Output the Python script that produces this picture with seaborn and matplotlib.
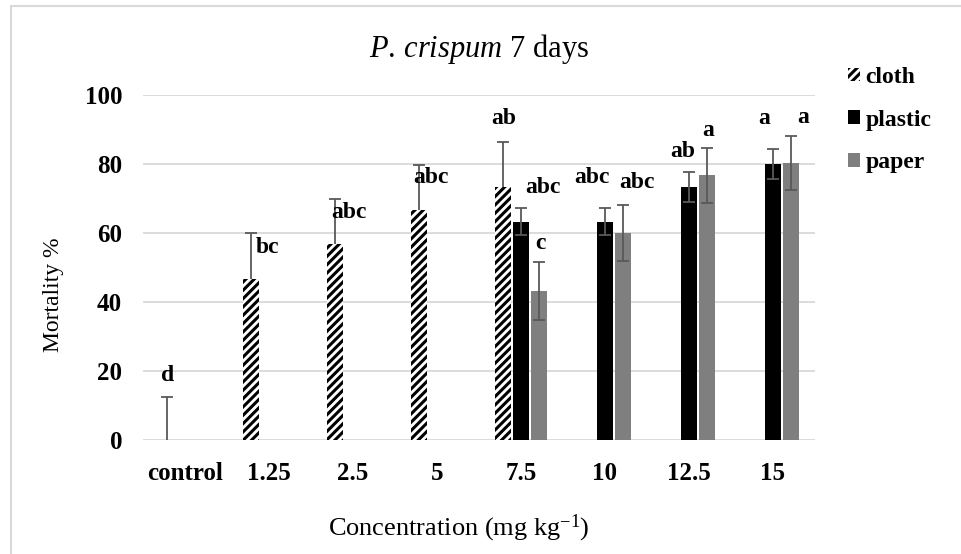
import numpy as np
import pandas as pd
import seaborn as sns
import matplotlib.pyplot as plt
from matplotlib.patches import Patch, Rectangle

# -------- DATA --------
categories = ["control", "1.25", "2.5", "5", "7.5", "10", "12.5", "15"]
series = ["cloth", "plastic", "paper"]

cloth_mean = [0, 46.7, 56.7, 66.7, 73.3, np.nan, np.nan, np.nan]
cloth_err = [12.5, 13.3, 13.3, 13.0, 13.0, np.nan, np.nan, np.nan]
plastic_mean = [np.nan, np.nan, np.nan, np.nan, 63.3, 63.3, 73.3, 80.0]
plastic_err = [np.nan, np.nan, np.nan, np.nan, 4.0, 4.0, 4.4, 4.4]
paper_mean = [np.nan, np.nan, np.nan, np.nan, 43.3, 60.0, 76.7, 80.3]
paper_err = [np.nan, np.nan, np.nan, np.nan, 8.4, 8.2, 7.9, 7.7]

# significance letters: (text, x position in category units, y position)
letters = ["d", "bc", "abc", "abc", "ab", "abc", "c", "abc", "abc", "ab", "a", "a", "a"]
letter_x = [-0.21, 0.98, 1.95, 2.93, 3.79, 4.26, 4.23, 4.85, 5.38, 5.92, 6.23, 6.90, 7.36]
letter_y = [18.8, 55.7, 65.8, 76.0, 93.3, 73.3, 57.0, 76.2, 74.5, 83.5, 89.6, 93.3, 93.6]

colors = {"cloth": "white", "plastic": "black", "paper": "#7f7f7f"}

# -------- BUILD TABLE --------
means = {"cloth": cloth_mean, "plastic": plastic_mean, "paper": paper_mean}
errs = {"cloth": cloth_err, "plastic": plastic_err, "paper": paper_err}
rows = []
for s in series:
    for c, m, e in zip(categories, means[s], errs[s]):
        rows.append({"Concentration": c, "Material": s, "Mortality": m, "Err": e})
df = pd.DataFrame(rows)

# -------- PLOT --------
plt.rcParams["hatch.linewidth"] = 2.2
plt.rcParams["font.family"] = ["Liberation Serif", "DejaVu Serif"]
plt.rcParams["mathtext.fontset"] = "custom"
plt.rcParams["mathtext.rm"] = "Liberation Serif"
plt.rcParams["mathtext.it"] = "Liberation Serif:italic"

fig = plt.figure(figsize=(9.62, 5.54), dpi=100)
ax = fig.add_axes([143 / 962, 1 - 440 / 554, (815 - 143) / 962, (440 - 95) / 554])

sns.barplot(
    data=df.dropna(subset=["Mortality"]),
    x="Concentration", y="Mortality", hue="Material",
    order=categories, hue_order=series,
    palette=colors, width=0.64, gap=0.1,
    errorbar=None, linewidth=0, legend=False, ax=ax,
)

# hatch the cloth bars and add error bars
for s, cont in zip(series, ax.containers):
    for p in cont:
        cx = p.get_x() + p.get_width() / 2
        idx = int(round(cx))
        p.set_zorder(2)
        if s == "cloth":
            p.set_hatch("////")
            p.set_edgecolor("black")
            p.set_linewidth(0)
        ax.errorbar(cx, means[s][idx], yerr=errs[s][idx], fmt="none",
                    ecolor="#595959", elinewidth=1.3, capsize=4.3, capthick=1.3,
                    zorder=1.5 if s == "cloth" else 3)

for t, x, y in zip(letters, letter_x, letter_y):
    ax.text(x, y, t, ha="center", va="center", fontsize=17, fontweight="bold")

ax.set_ylim(0, 100)
ax.set_xlim(-0.5, 7.5)
ax.set_yticks([0, 20, 40, 60, 80, 100])
ax.yaxis.grid(True, color="#d9d9d9", linewidth=1.3)
ax.set_axisbelow(True)
for sp in ax.spines.values():
    sp.set_visible(False)
ax.tick_params(axis="both", length=0, labelsize=18)
ax.tick_params(axis="y", pad=15)
ax.tick_params(axis="x", pad=16)
for lab in ax.get_xticklabels() + ax.get_yticklabels():
    lab.set_fontweight("bold")

ax.set_ylabel("Mortality %", fontsize=17)
ax.yaxis.set_label_coords(-0.118, 0.42)
ax.set_xlabel("Concentration (mg kg$^{-1}$)", fontsize=19)
ax.xaxis.set_label_coords((459 - 143) / 672, -(535 - 440) / 345)
ax.xaxis.label.set_va("baseline")
ax.set_title("$\\it{P.\\,crispum}$ 7 days", fontsize=22, pad=27)

# legend
handles = [
    Patch(facecolor="white", edgecolor="black", hatch="////", linewidth=0, label="cloth"),
    Patch(facecolor="black", label="plastic"),
    Patch(facecolor="#7f7f7f", label="paper"),
]
fig.legend(handles=handles, loc="center left", bbox_to_anchor=(848 / 962, 1 - 120 / 554),
           frameon=False, borderpad=0, borderaxespad=0,
           handlelength=0.5, handleheight=0.5, handletextpad=0.25,
           labelspacing=0.92, prop={"weight": "bold", "size": 17})

# chart area border (left and top edges visible)
fig.add_artist(Rectangle((11 / 962, -0.1), 1.2, 1 - 6 / 554 + 0.1,
                         transform=fig.transFigure, fill=False,
                         edgecolor="#d9d9d9", linewidth=1.5))

fig.savefig("out.png", dpi=100)
